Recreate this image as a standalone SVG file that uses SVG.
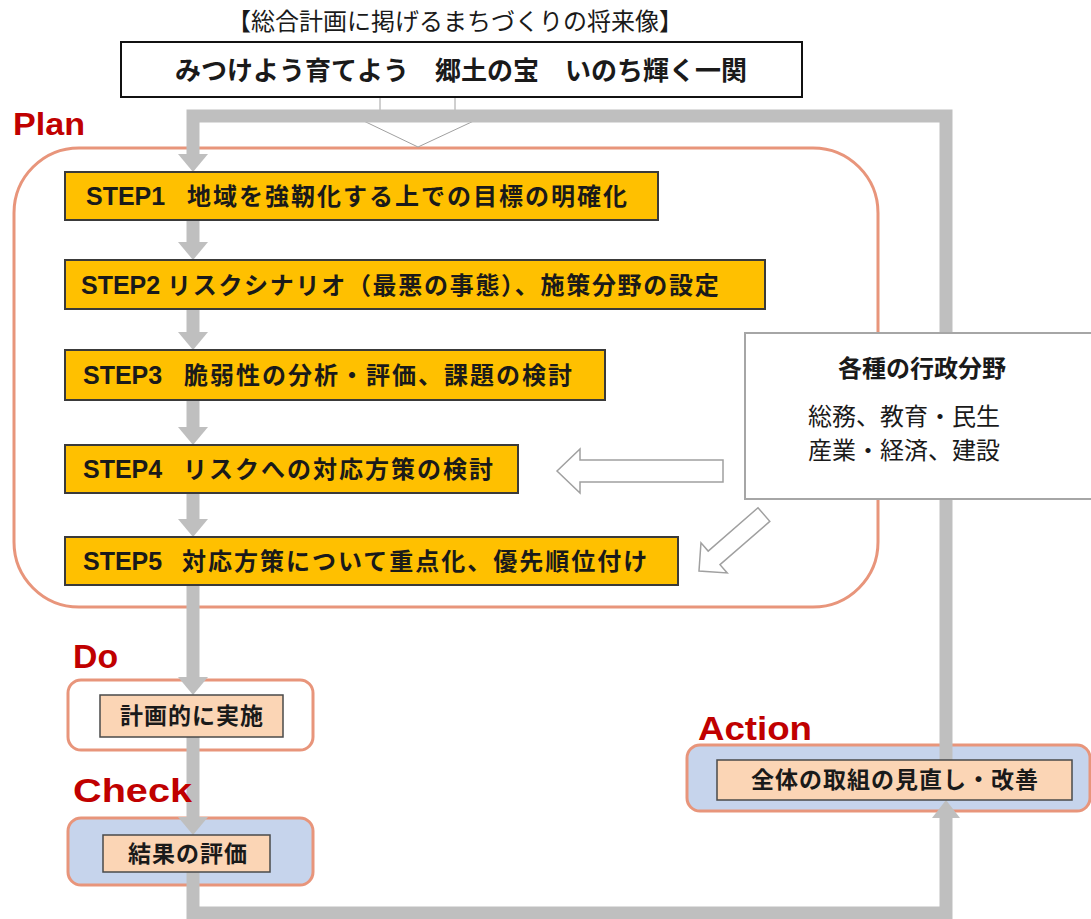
<svg xmlns="http://www.w3.org/2000/svg" width="1091" height="919" viewBox="0 0 1091 919">
<style>
.jp{font-family:"Noto Sans CJK JP","Noto Sans CJK SC",sans-serif;fill:#1a1a1a}
.lat{font-family:"Liberation Sans",Arial,sans-serif;font-weight:bold;font-size:25px;fill:#1a1a1a}
.stp{fill:#ffc000;stroke:#3a3a3a;stroke-width:2}
.cj{font-family:"Noto Sans CJK JP",sans-serif;font-weight:bold;font-size:24px;letter-spacing:2px;fill:#1a1a1a}
.phase{fill:none;stroke:#e8957b;stroke-width:3}
.tan{fill:#fbd5b5;stroke:#4a4a4a;stroke-width:1.5}
.tant{font-family:"Noto Sans CJK JP",sans-serif;font-weight:bold;font-size:23px;letter-spacing:1px;fill:#1a1a1a;text-anchor:middle}
.red{font-family:"Liberation Sans",Arial,sans-serif;font-weight:bold;fill:#c00000}
.gl{fill:none;stroke:#bfbfbf;stroke-width:13;stroke-linejoin:miter;stroke-linecap:butt}
.gh{fill:#bfbfbf}
.hollow{fill:#fff;stroke:#a0a0a0;stroke-width:1.5;stroke-linejoin:miter}
</style>
<rect x="0" y="0" width="1091" height="919" fill="#fff"/>

<g id="plan">
  <rect x="14" y="148" width="864" height="459" rx="65" ry="65" class="phase" style="fill:#fff"/>
  <text class="red" x="13" y="135" font-size="31" textLength="72" lengthAdjust="spacingAndGlyphs">Plan</text>
</g>

<g id="do-frame">
  <rect x="68" y="680" width="245" height="70" rx="13" ry="13" class="phase" style="fill:#fff"/>
</g>
<g id="check-frame">
  <rect x="68" y="818" width="245" height="67" rx="13" ry="13" class="phase" style="fill:#c6d4ec"/>
</g>
<g id="action-frame">
  <rect x="687" y="745" width="403" height="66" rx="13" ry="13" class="phase" style="fill:#c6d4ec"/>
</g>

<g id="connectors">
  <polygon class="hollow" points="380,97 455,97 455,112 493,112 418,147 345,112 380,112" style="stroke-width:1"/>
  <path class="gl" d="M193,154 V116 H946 V780"/>
  <polygon class="gh" points="178,154 208,154 193,172"/>
  <path class="gl" d="M193,220 V243"/>
  <polygon class="gh" points="178,242 208,242 193,260"/>
  <path class="gl" d="M193,309 V333"/>
  <polygon class="gh" points="178,332 208,332 193,350"/>
  <path class="gl" d="M193,400 V428"/>
  <polygon class="gh" points="178,427 208,427 193,445"/>
  <path class="gl" d="M193,493 V520"/>
  <polygon class="gh" points="178,519 208,519 193,537"/>
  <path class="gl" d="M193,585 V678"/>
  <polygon class="gh" points="178,677 208,677 193,695"/>
  <path class="gl" d="M193,737 V818"/>
  <polygon class="gh" points="178,817 208,817 193,835"/>
  <path class="gl" d="M193,872 V913 H946 V817"/>
  <polygon class="gh" points="932,818 960,818 946,800"/>
</g>

<g id="title">
  <text class="jp" x="455" y="30" font-size="24" text-anchor="middle">【総合計画に掲げるまちづくりの将来像】</text>
</g>
<g id="vision">
  <rect x="121" y="42" width="681" height="55" fill="#fff" stroke="#111" stroke-width="2"/>
  <text class="jp" x="461" y="80" font-size="26" font-weight="bold" text-anchor="middle" fill="#000">みつけよう育てよう　郷土の宝　いのち輝く一関</text>
</g>

<g id="step1">
  <rect class="stp" x="65" y="172" width="593" height="48"/>
  <text y="205"><tspan class="lat" x="86">STEP1 </tspan><tspan class="cj" x="187">地域を強靭化する上での目標の明確化</tspan></text>
</g>
<g id="step2">
  <rect class="stp" x="65" y="260" width="700" height="49"/>
  <text y="294"><tspan class="lat" x="81">STEP2 </tspan><tspan class="cj" x="167" style="letter-spacing:1.7px">リスクシナリオ（最悪の事態）、施策分野の設定</tspan></text>
</g>
<g id="step3">
  <rect class="stp" x="65" y="350" width="540" height="50"/>
  <text y="384"><tspan class="lat" x="83">STEP3 </tspan><tspan class="cj" x="184">脆弱性の分析・評価、課題の検討</tspan></text>
</g>
<g id="step4">
  <rect class="stp" x="65" y="445" width="453" height="48"/>
  <text y="478"><tspan class="lat" x="83">STEP4 </tspan><tspan class="cj" x="183">リスクへの対応方策の検討</tspan></text>
</g>
<g id="step5">
  <rect class="stp" x="65" y="537" width="613" height="48"/>
  <text y="570"><tspan class="lat" x="83">STEP5 </tspan><tspan class="cj" x="182">対応方策について重点化、優先順位付け</tspan></text>
</g>

<g id="gyosei">
  <rect x="745" y="333" width="350" height="166" fill="#fff" stroke="#a6a6a6" stroke-width="2"/>
  <text class="jp" x="922" y="377" font-size="24" font-weight="bold" text-anchor="middle">各種の行政分野</text>
  <text class="jp" x="808" y="425" font-size="24">総務、教育・民生</text>
  <text class="jp" x="808" y="459" font-size="24">産業・経済、建設</text>
</g>

<g id="arrows-in">
  <polygon class="hollow" points="557,471 580,449 580,460 723,460 723,482 580,482 580,493"/>
  <polygon class="hollow" transform="translate(699,571) rotate(-41)" points="0,0 20,-20 20,-9 86,-9 86,9 20,9 20,20"/>
</g>

<g id="do">
  <text class="red" x="73" y="668" font-size="34" textLength="45" lengthAdjust="spacingAndGlyphs">Do</text>
  <rect class="tan" x="100" y="695" width="183" height="42"/>
  <text class="tant" x="192" y="724">計画的に実施</text>
</g>
<g id="check">
  <text class="red" x="73" y="802" font-size="34" textLength="119" lengthAdjust="spacingAndGlyphs">Check</text>
  <rect class="tan" x="103" y="835" width="167" height="37"/>
  <text class="tant" x="188" y="862">結果の評価</text>
</g>
<g id="action">
  <text class="red" x="698" y="740" font-size="34" textLength="114" lengthAdjust="spacingAndGlyphs">Action</text>
  <rect class="tan" x="717" y="760" width="355" height="40"/>
  <text class="tant" x="895" y="788">全体の取組の見直し・改善</text>
</g>
</svg>
